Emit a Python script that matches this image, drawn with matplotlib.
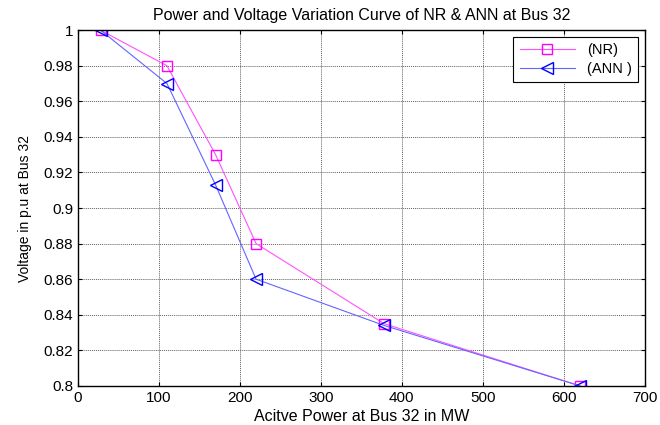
import matplotlib.pyplot as plt

plt.rcParams['font.family'] = ['Liberation Sans', 'DejaVu Sans']

power_nr = [28, 110, 170, 220, 378, 620]
volt_nr = [1.0, 0.98, 0.93, 0.88, 0.835, 0.80]
power_ann = [28, 110, 170, 220, 378, 620]
volt_ann = [1.0, 0.97, 0.913, 0.86, 0.834, 0.80]

fig = plt.figure(figsize=(6.6, 4.25), dpi=100)
ax = fig.add_axes([0.118, 0.092, 0.859, 0.837])

ax.plot(power_nr, volt_nr, color="#ff50ff", lw=0.8, marker="s", ms=7,
        mfc="none", mec="#ff00ff", mew=1.0, label="(NR)")
ax.plot(power_ann, volt_ann, color="#6464ff", lw=0.8, marker="<", ms=8,
        mfc="none", mec="#0000ff", mew=1.0, label="(ANN )")

ax.set_xlim(0, 700)
ax.set_ylim(0.8, 1.0)
ax.set_xticks(range(0, 701, 100))
ax.set_yticks([0.8, 0.82, 0.84, 0.86, 0.88, 0.9, 0.92, 0.94, 0.96, 0.98, 1.0])
ax.set_yticklabels(["0.8", "0.82", "0.84", "0.86", "0.88", "0.9", "0.92",
                    "0.94", "0.96", "0.98", "1"])
ax.tick_params(labelsize=11, direction="in", length=3, top=True, right=True)
ax.grid(True, color="#606060", ls=(0, (1, 1)), lw=0.7)
for s in ax.spines.values():
    s.set_linewidth(1.0)

ax.set_title("Power and Voltage Variation Curve of NR & ANN at Bus 32", fontsize=11.5, pad=7)
ax.set_xlabel("Acitve Power at Bus 32 in MW", fontsize=11.5, labelpad=3)
ax.set_ylabel("Voltage in p.u at Bus 32", fontsize=10, labelpad=8)

leg = ax.legend(loc="upper right", fontsize=10.5, fancybox=False, edgecolor="black",
                framealpha=1, handlelength=3.8, borderpad=0.45, labelspacing=0.3,
                borderaxespad=0.45)
leg.get_frame().set_linewidth(0.8)

fig.savefig("out.png")
